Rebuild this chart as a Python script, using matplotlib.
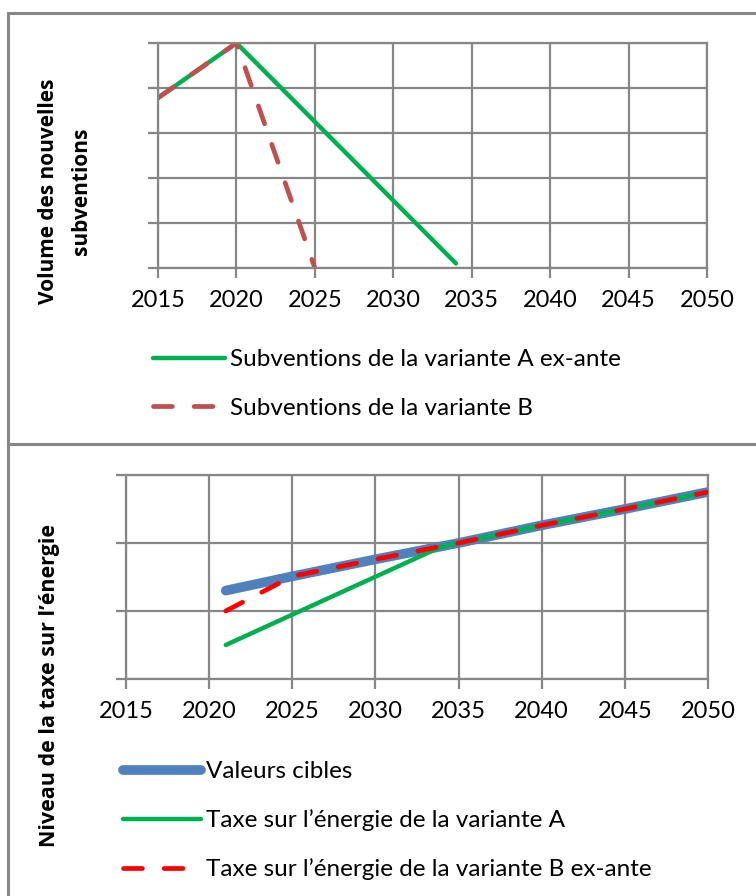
import matplotlib
matplotlib.use("Agg")
import matplotlib.pyplot as plt
from matplotlib.patches import Rectangle

plt.rcParams['font.family'] = ['Lato', 'DejaVu Sans']

# --- données ---
years_ticks = [2015, 2020, 2025, 2030, 2035, 2040, 2045, 2050]

sub_a_years = [2015, 2020, 2034]
sub_a_vals = [3.78, 5.0, 0.1]
sub_b_years = [2015, 2020, 2025]
sub_b_vals = [3.78, 5.0, 0.0]

cible_years = [2021, 2025, 2030, 2035, 2040, 2045, 2050]
cible_vals = [1.30, 1.51, 1.76, 2.00, 2.26, 2.50, 2.75]
taxe_a_years = [2021, 2034, 2035, 2040, 2045, 2050]
taxe_a_vals = [0.50, 1.95, 2.00, 2.26, 2.50, 2.75]
taxe_b_years = [2021, 2025, 2030, 2035, 2040, 2045, 2050]
taxe_b_vals = [1.00, 1.51, 1.76, 2.00, 2.26, 2.50, 2.75]

GRID = '#878787'
W, H = 756, 896
BOLD = ['Open Sans', 'DejaVu Sans']

fig = plt.figure(figsize=(W / 100, H / 100), dpi=100)

# cadres des deux panneaux
for (y0, y1) in [(13, 444), (444, 900)]:
    fig.patches.append(Rectangle((8 / W, 1 - y1 / H), 1.0, (y1 - y0) / H,
                                 transform=fig.transFigure, fill=False,
                                 edgecolor=GRID, linewidth=2.2))


def style_axes(ax, ymax, nlines):
    ax.set_xlim(2015, 2050)
    ax.set_ylim(0, ymax)
    ax.set_xticks(years_ticks)
    ax.set_yticks([ymax * i / nlines for i in range(nlines + 1)])
    ax.set_yticklabels([])
    ax.grid(True, color=GRID, linewidth=1.6)
    ax.set_axisbelow(True)
    for s in ax.spines.values():
        s.set_color(GRID)
        s.set_linewidth(1.6)
    ax.tick_params(axis='both', direction='out', length=7, width=1.6,
                   color=GRID, labelsize=17, pad=9)


# --- panneau du haut ---
ax1 = fig.add_axes([158 / W, 1 - 268 / H, 549 / W, 225 / H])
style_axes(ax1, 5, 5)
ax1.plot(sub_a_years, sub_a_vals, color='#00B050', linewidth=3.2,
         solid_capstyle='round', label='Subventions de la variante A ex-ante')
ax1.plot(sub_b_years, sub_b_vals, color='#C0504D', linewidth=3.4,
         linestyle=(0, (4.0, 4.6)), dash_capstyle='round',
         label='Subventions de la variante B')
ax1.set_ylabel('Volume des nouvelles\nsubventions', fontsize=15,
               fontweight='bold', family=BOLD, linespacing=1.75)
ax1.yaxis.set_label_coords(-0.12, 0.34)
ax1.legend(loc='upper left', bbox_to_anchor=(153 / W, 1 - 349 / H),
           bbox_transform=fig.transFigure, frameon=False, fontsize=17.5,
           handlelength=2.95, handletextpad=0.2, labelspacing=1.15,
           borderpad=0, borderaxespad=0)

# --- panneau du bas ---
ax2 = fig.add_axes([126 / W, 1 - 679 / H, 582 / W, 204 / H])
style_axes(ax2, 3, 3)
ax2.plot(cible_years, cible_vals, color='#4F81BD', linewidth=7,
         solid_capstyle='round', label='Valeurs cibles', zorder=2)
ax2.plot(taxe_a_years, taxe_a_vals, color='#00B050', linewidth=3.2,
         solid_capstyle='round', label='Taxe sur l\u2019énergie de la variante A', zorder=3)
ax2.plot(taxe_b_years, taxe_b_vals, color='#FF0000', linewidth=3.4,
         linestyle=(0, (4.0, 4.6)), dash_capstyle='round',
         label='Taxe sur l\u2019énergie de la variante B ex-ante', zorder=4)
ax2.set_ylabel('Niveau de la taxe sur l\u2019énergie', fontsize=15.5,
               fontweight='bold', family=BOLD)
ax2.yaxis.set_label_coords(-0.113, -0.03)
ax2.legend(loc='upper left', bbox_to_anchor=(123 / W, 1 - 761 / H),
           bbox_transform=fig.transFigure, frameon=False, fontsize=17.5,
           handlelength=3.2, handletextpad=0.2, labelspacing=1.12,
           borderpad=0, borderaxespad=0)

fig.savefig('out.png', dpi=100)
